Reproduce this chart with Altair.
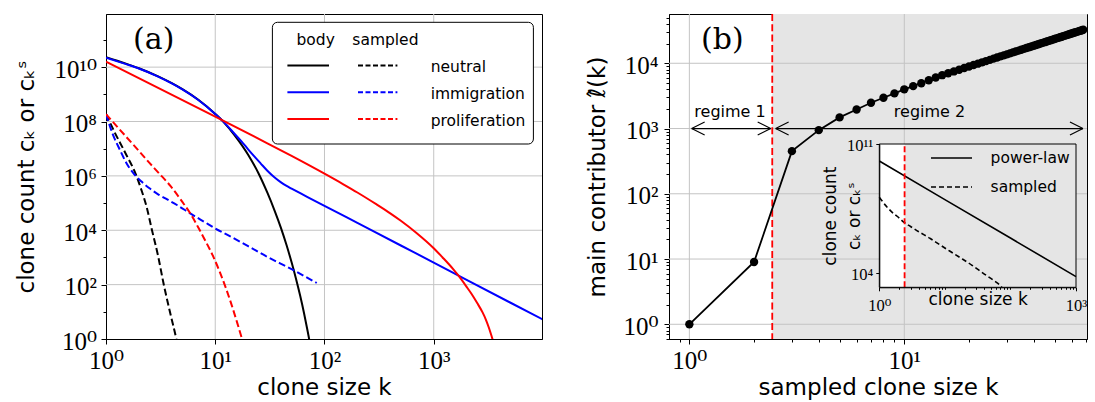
import altair as alt
import pandas as pd

# ================= data =================
# panel (a): clone count c_k (body) and c_k^s (sampled) against clone size k
neutral_body_k = [1, 1.5, 2, 3, 4, 5, 7, 10, 12, 15, 20, 25, 30, 35, 40, 45, 50, 55, 60, 65, 70, 74]
neutral_body_c = [2.34e10, 1.38e10, 9.1e9, 4.57e9, 2.57e9, 1.55e9, 6.3e8, 1.9e8, 9.3e7, 3.16e7, 6.0e6,
                  1.2e6, 2.4e5, 5.2e4, 1.2e4, 2.8e3, 660, 158, 38, 8.9, 2.0, 0.63]

immig_body_k = [1, 1.5, 2, 3, 4, 5, 7, 10, 12, 15, 18, 20, 23, 26, 30, 35, 40, 45, 50, 60, 70, 100,
                200, 500, 1000, 2000, 5000, 10000]
immig_body_c = [2.24e10, 1.32e10, 8.9e9, 4.47e9, 2.51e9, 1.51e9, 6.2e8, 1.9e8, 9.5e7, 3.55e7, 1.58e7,
                9.5e6, 5.0e6, 2.9e6, 1.55e6, 8.7e5, 5.75e5, 4.27e5, 3.4e5, 2.3e5, 1.66e5, 7.9e4,
                1.86e4, 2.75e3, 650, 150, 22, 5.2]

prolif_body_k = [1, 3, 10, 30, 50, 100, 150, 200, 300, 400, 500, 700, 1000, 1200, 1500, 1700, 2000,
                 2200, 2500, 2800, 3000, 3200, 3450, 3700]
prolif_body_c = [1.58e10, 1.74e9, 1.51e8, 1.58e7, 5.4e6, 1.2e6, 4.8e5, 2.45e5, 8.9e4, 4.2e4, 2.24e4,
                 7.8e3, 2.19e3, 1.02e3, 380, 204, 83, 48, 21, 9.5, 5.2, 2.6, 1.0, 0.4]

neutral_samp_k = [1, 1.2, 1.5, 1.9, 2.1, 2.35, 2.62, 3.0, 3.36, 3.9, 4.4, 4.6]
neutral_samp_c = [1.9e8, 4.0e7, 7.1e6, 1.0e6, 3.2e5, 7.4e4, 1.12e4, 1.12e3, 112, 7.9, 1.0, 0.4]

immig_samp_k = [1, 1.15, 1.34, 1.55, 1.78, 2.1, 2.5, 3.0, 3.5, 4.5, 6, 8, 10, 15, 20, 30, 50, 70, 85]
immig_samp_c = [1.86e8, 3.5e7, 9.1e6, 2.8e6, 1.26e6, 6.3e5, 3.5e5, 2.1e5, 1.48e5, 8.3e4, 4.0e4,
                2.0e4, 1.17e4, 4.9e3, 2.6e3, 1.05e3, 370, 178, 115]

prolif_samp_k = [1, 1.5, 2, 2.5, 3, 3.92, 5, 5.9, 7, 8, 9.6, 11, 12.4, 14, 16, 17.6, 18.5]
prolif_samp_c = [1.86e8, 3.0e7, 8.3e6, 3.0e6, 1.35e6, 4.1e5, 1.1e5, 4.2e4, 1.26e4, 4.6e3, 1.07e3,
                 295, 83, 20, 3.6, 1.0, 0.5]

# panel (b): main contributor against sampled clone size
sampled_size = [1, 2, 3, 4, 5, 6, 7, 8, 9, 10, 11, 12, 13, 14, 15, 16, 17, 18, 19, 20, 21, 22, 23,
                24, 25, 26, 27, 28, 29, 30, 31, 32, 33, 34, 35, 36, 37, 38, 39, 40, 41, 42, 43, 44,
                45, 46, 47, 48, 49, 50, 51, 52, 53, 54, 55, 56, 57, 58, 59, 60, 61, 62, 63, 64, 65,
                66, 67, 68]
main_contributor = [1, 9, 450, 945, 1480, 1960, 2480, 2960, 3460, 3990, 4460, 4950, 5500, 6050, 6570,
                    7040, 7500, 7970, 8450, 8910, 9390, 9860, 10340, 10810, 11290, 11770, 12250,
                    12740, 13220, 13700, 14180, 14670, 15150, 15640, 16130, 16620, 17110, 17600,
                    18090, 18590, 19080, 19570, 20060, 20560, 21050, 21550, 22050, 22540, 23040,
                    23540, 24040, 24540, 25040, 25540, 26040, 26540, 27050, 27550, 28060, 28570,
                    29070, 29580, 30080, 30590, 31090, 31600, 32110, 32620]
regime_boundary = 2.43

# inset of panel (b)
inset_power_k = [1, 10, 100, 1000]
inset_power_c = [1.2e10, 9.8e7, 8.1e5, 6.6e3]
inset_sampled_k = [1, 1.3, 1.56, 2.0, 2.36, 3, 4, 6, 8, 12, 18, 26, 40, 55, 70, 74]
inset_sampled_c = [1.32e8, 4.0e7, 2.04e7, 1.0e7, 5.9e6, 3.4e6, 1.78e6, 7.6e5, 3.9e5, 1.55e5, 6.3e4,
                   2.7e4, 9.1e3, 4.2e3, 2.2e3, 1.78e3]

# tick positions
a_xticks = [1, 10, 100, 1000]
a_yticks = [1, 1e1, 1e2, 1e3, 1e4, 1e5, 1e6, 1e7, 1e8, 1e9, 1e10, 1e11]
a_xgrid = [10, 100, 1000]
a_ygrid = [1e2, 1e4, 1e6, 1e8, 1e10]
b_xticks = [0.9, 1, 2, 3, 4, 5, 6, 7, 8, 9, 10, 20, 30, 40, 50, 60, 70]
b_yticks = [0.6, 0.7, 0.8, 0.9] + [m * 10 ** e for e in range(0, 4) for m in range(1, 10)] + [1e4, 2e4, 3e4, 4e4, 5e4]
b_xgrid = [1, 10]
b_ygrid = [1, 10, 100, 1000, 10000]
i_xticks = [m * 10 ** e for e in range(0, 3) for m in range(1, 10)] + [1000]
i_yticks = [1e4, 1e11]

# ================= styling =================
SANS = "DejaVu Sans"
SERIF = "Liberation Serif, DejaVu Serif"
GRID = "#c4c4c4"
SHADE = "#e5e5e5"
BLUE = "#0000ff"
RED = "#ff0000"
DASH = [7, 3.3]
W_A, H_A = 436, 325
W_B, H_B = 418, 325
TICKFS = 25

E = "round(log(datum.value)/LN10)"
S = "'\u2070\u00b9\u00b2\u00b3\u2074\u2075\u2076\u2077\u2078\u2079'"
POW = ("'10' + (" + E + " >= 10 ? substring(" + S + ", floor(" + E + "/10), floor(" + E + "/10)+1) : '') + "
       "substring(" + S + ", " + E + " % 10, " + E + " % 10 + 1)")
MAJOR = "abs(log(datum.value)/LN10 - " + E + ") < 0.01"
EVEN = "(" + MAJOR + ") && (" + E + " % 2 == 0)"


def cond(test, a, b):
    return {"condition": {"test": test, "value": a}, "value": b}


common_axis = dict(labelFont=SERIF, labelColor="black", labelOverlap=False, labelFlush=False,
                   tickColor="black", tickWidth=1, domainColor="black", domainWidth=1, grid=False,
                   titleFont=SANS, titleFontWeight="normal", titleColor="black")

ax_ax = alt.Axis(values=a_xticks, labelExpr=POW, labelFontSize=TICKFS, labelBaseline="alphabetic",
                 labelPadding=24, tickSize=5, title="clone size k", titleFontSize=23, titleY=55,
                 titleBaseline="alphabetic", **common_axis)
ax_ay = alt.Axis(values=a_yticks, labelExpr="(" + EVEN + ") ? " + POW + " : ''", labelFontSize=TICKFS,
                 labelBaseline="alphabetic", labelOffset=10, labelPadding=4.5,
                 tickSize=cond(EVEN, 5, 3), title="clone count c\u2096 or c\u2096\u02e2",
                 titleFontSize=23, titleX=-73, titleBaseline="alphabetic", **common_axis)
xs_a = alt.Scale(type="log", domain=[1, 9800], nice=False)
ys_a = alt.Scale(type="log", domain=[1, 9e11], nice=False)


def XA(f):
    return alt.X(f, type="quantitative", scale=xs_a, axis=ax_ax)


def YA(f):
    return alt.Y(f, type="quantitative", scale=ys_a, axis=ax_ay)


dummy = pd.DataFrame({"d": [0]})

# ---------- panel (a) ----------
a_layers = [
    alt.Chart(pd.DataFrame({"k": a_xgrid})).mark_rule(color=GRID, strokeWidth=1).encode(x=XA("k")),
    alt.Chart(pd.DataFrame({"c": a_ygrid})).mark_rule(color=GRID, strokeWidth=1).encode(y=YA("c")),
]
curves = [
    (neutral_body_k, neutral_body_c, "black", None),
    (immig_body_k, immig_body_c, BLUE, None),
    (prolif_body_k, prolif_body_c, RED, None),
    (neutral_samp_k, neutral_samp_c, "black", DASH),
    (immig_samp_k, immig_samp_c, BLUE, DASH),
    (prolif_samp_k, prolif_samp_c, RED, DASH),
]
for ks, cs, col, dash in curves:
    kw = dict(color=col, strokeWidth=2, clip=True, interpolate="monotone")
    if dash:
        kw["strokeDash"] = dash
    a_layers.append(alt.Chart(pd.DataFrame({"k": ks, "c": cs})).mark_line(**kw)
                    .encode(x=XA("k"), y=YA("c")))

# legend box of panel (a)
a_layers.append(alt.Chart(dummy).mark_rect(fill="white", stroke="black", strokeWidth=1, cornerRadius=5)
                .encode(x=alt.value(166.4), x2=alt.value(427.4), y=alt.value(8.3), y2=alt.value(130)))
for txt, xc in [("body", 209.7), ("sampled", 279.4)]:
    a_layers.append(alt.Chart(dummy).mark_text(text=txt, font=SANS, fontSize=15.5, align="center",
                                               baseline="alphabetic", color="black")
                    .encode(x=alt.value(xc), y=alt.value(30.6)))
for name, col, ly, ty in [("neutral", "black", 51.6, 58.3), ("immigration", BLUE, 78.3, 85),
                          ("proliferation", RED, 105, 111.6)]:
    a_layers.append(alt.Chart(dummy).mark_rule(color=col, strokeWidth=2)
                    .encode(x=alt.value(181.4), x2=alt.value(223), y=alt.value(ly)))
    a_layers.append(alt.Chart(dummy).mark_rule(color=col, strokeWidth=2, strokeDash=[5, 2.5])
                    .encode(x=alt.value(252), x2=alt.value(291.4), y=alt.value(ly)))
    a_layers.append(alt.Chart(dummy).mark_text(text=name, font=SANS, fontSize=15.5, align="left",
                                               baseline="alphabetic", color="black")
                    .encode(x=alt.value(324.7), y=alt.value(ty)))
a_layers.append(alt.Chart(dummy).mark_text(text="(a)", font="DejaVu Serif", fontSize=30, align="center",
                                           baseline="middle", color="black")
                .encode(x=alt.value(47.7), y=alt.value(25.8)))
chart_a = alt.layer(*a_layers).properties(width=W_A, height=H_A)

# ---------- panel (b) main ----------
ax_bx = alt.Axis(values=b_xticks, labelExpr="(" + MAJOR + ") ? " + POW + " : ''", labelFontSize=TICKFS,
                 labelBaseline="alphabetic", labelPadding=24, tickSize=cond(MAJOR, 5, 3),
                 title="sampled clone size k", titleFontSize=23, titleY=55, titleBaseline="alphabetic",
                 **common_axis)
ax_by = alt.Axis(values=b_yticks, labelExpr="(" + MAJOR + ") ? " + POW + " : ''", labelFontSize=TICKFS,
                 labelBaseline="alphabetic", labelOffset=10, labelPadding=6, tickSize=cond(MAJOR, 5, 3),
                 title="main contributor \u2113\u0302(k)", titleFontSize=23, titleX=-65,
                 titleBaseline="alphabetic", **common_axis)
xs_b = alt.Scale(type="log", domain=[0.804, 70.8], nice=False)
ys_b = alt.Scale(type="log", domain=[0.595, 56900], nice=False)


def XB(f):
    return alt.X(f, type="quantitative", scale=xs_b, axis=ax_bx)


def YB(f):
    return alt.Y(f, type="quantitative", scale=ys_b, axis=ax_by)


arrows = pd.DataFrame({"k": [1.025, 2.52], "k2": [2.39, 67.8], "l": [1000, 1000]})
left_heads = pd.DataFrame({"k": [1.025, 2.52], "l": [1000, 1000]})
right_heads = pd.DataFrame({"k": [2.39, 67.8], "l": [1000, 1000]})

b_main = [
    alt.Chart(pd.DataFrame({"k": [regime_boundary], "k2": [80]})).mark_rect(color=SHADE, clip=True)
    .encode(x=XB("k"), x2=alt.X2("k2"), y=alt.value(0), y2=alt.value(H_B)),
    alt.Chart(pd.DataFrame({"k": b_xgrid})).mark_rule(color=GRID, strokeWidth=1).encode(x=XB("k")),
    alt.Chart(pd.DataFrame({"l": b_ygrid})).mark_rule(color=GRID, strokeWidth=1).encode(y=YB("l")),
    alt.Chart(pd.DataFrame({"k": [regime_boundary]})).mark_rule(color=RED, strokeWidth=1.8, strokeDash=DASH)
    .encode(x=XB("k")),
    alt.Chart(arrows).mark_rule(color="black", strokeWidth=1.2).encode(x=XB("k"), x2=alt.X2("k2"), y=YB("l")),
    alt.Chart(left_heads).mark_point(shape="M0,0L1,-0.5M0,0L1,0.5", size=676, filled=False, color="black",
                                     strokeWidth=1.2, opacity=1).encode(x=XB("k"), y=YB("l")),
    alt.Chart(right_heads).mark_point(shape="M0,0L-1,-0.5M0,0L-1,0.5", size=676, filled=False, color="black",
                                      strokeWidth=1.2, opacity=1).encode(x=XB("k"), y=YB("l")),
    alt.Chart(pd.DataFrame({"k": sampled_size, "l": main_contributor})).mark_line(color="black", strokeWidth=1.8)
    .encode(x=XB("k"), y=YB("l")),
    alt.Chart(pd.DataFrame({"k": sampled_size, "l": main_contributor})).mark_circle(color="black", size=70, opacity=1)
    .encode(x=XB("k"), y=YB("l")),
    alt.Chart(dummy).mark_text(text="regime 1", font=SANS, fontSize=16, align="center", baseline="alphabetic",
                               color="black").encode(x=alt.value(61), y=alt.value(103)),
    alt.Chart(dummy).mark_text(text="regime 2", font=SANS, fontSize=16, align="center", baseline="alphabetic",
                               color="black").encode(x=alt.value(260.5), y=alt.value(103)),
    alt.Chart(dummy).mark_text(text="(b)", font="DejaVu Serif", fontSize=30, align="center", baseline="middle",
                               color="black").encode(x=alt.value(53.3), y=alt.value(25.8)),
]
main_b = alt.layer(*b_main)

# ---------- inset ----------
IX0, IX1, IY0, IY1 = 210.3, 407, 273.3, 130
ax_ix = alt.Axis(orient="bottom", offset=-(H_B - IY0), values=i_xticks, zindex=1,
                 labelExpr="(datum.value == 1 || datum.value == 1000) ? " + POW + " : ''",
                 labelFontSize=16.5, labelBaseline="alphabetic", labelPadding=19.5,
                 tickSize=cond("datum.value == 1 || datum.value == 1000", 3.5, 2), title="clone size k",
                 titleFontSize=17, titleY=16.7, titleBaseline="alphabetic", **common_axis)
ax_iy = alt.Axis(orient="left", offset=-IX0, values=i_yticks, zindex=1, labelExpr=POW, labelFontSize=16.5,
                 labelBaseline="alphabetic", labelOffset=6, labelPadding=3, tickSize=3.5,
                 title=["clone count", "c\u2096 or c\u2096\u02e2"], titleFontSize=17, titleLineHeight=24,
                 titleX=-44, titleBaseline="alphabetic", **common_axis)
xs_i = alt.Scale(type="log", domain=[1, 1000], range=[IX0, IX1], nice=False)
ys_i = alt.Scale(type="log", domain=[1740, 1e11], range=[IY0, IY1], nice=False)


def XI(f):
    return alt.X(f, type="quantitative", scale=xs_i, axis=ax_ix)


def YI(f):
    return alt.Y(f, type="quantitative", scale=ys_i, axis=ax_iy)


box = pd.DataFrame({"k": [1], "k2": [1000], "c": [1740], "c2": [1e11]})
i_layers = [
    alt.Chart(box).mark_rect(fill="white").encode(x=XI("k"), x2=alt.X2("k2"), y=YI("c"), y2=alt.Y2("c2")),
    alt.Chart(pd.DataFrame({"k": [regime_boundary], "k2": [1000], "c": [1740], "c2": [1e11]}))
    .mark_rect(fill=SHADE).encode(x=XI("k"), x2=alt.X2("k2"), y=YI("c"), y2=alt.Y2("c2")),
    alt.Chart(pd.DataFrame({"k": inset_power_k, "c": inset_power_c})).mark_line(color="black", strokeWidth=1.6)
    .encode(x=XI("k"), y=YI("c")),
    alt.Chart(pd.DataFrame({"k": inset_sampled_k, "c": inset_sampled_c}))
    .mark_line(color="black", strokeWidth=1.6, strokeDash=[5, 3], interpolate="monotone")
    .encode(x=XI("k"), y=YI("c")),
    alt.Chart(pd.DataFrame({"k": [regime_boundary], "c": [1740], "c2": [1e11]}))
    .mark_rule(color=RED, strokeWidth=1.8, strokeDash=[6, 3]).encode(x=XI("k"), y=YI("c"), y2=alt.Y2("c2")),
    alt.Chart(box).mark_rect(fillOpacity=0, stroke="black", strokeWidth=1)
    .encode(x=XI("k"), x2=alt.X2("k2"), y=YI("c"), y2=alt.Y2("c2")),
    alt.Chart(dummy).mark_rule(color="black", strokeWidth=1.6)
    .encode(x=alt.value(262), x2=alt.value(303), y=alt.value(144)),
    alt.Chart(dummy).mark_rule(color="black", strokeWidth=1.6, strokeDash=[5, 3])
    .encode(x=alt.value(262), x2=alt.value(303), y=alt.value(173)),
    alt.Chart(dummy).mark_text(text="power-law", font=SANS, fontSize=15.5, align="left", baseline="alphabetic",
                               color="black").encode(x=alt.value(321.6), y=alt.value(149)),
    alt.Chart(dummy).mark_text(text="sampled", font=SANS, fontSize=15.5, align="left", baseline="alphabetic",
                               color="black").encode(x=alt.value(321.6), y=alt.value(178)),
]
inset = alt.layer(*i_layers)

chart_b = alt.layer(main_b, inset).resolve_scale(x="independent", y="independent").properties(width=W_B, height=H_B)

chart = (alt.hconcat(chart_a, chart_b, spacing=42)
         .properties(padding={"left": 14, "top": 7, "right": 0, "bottom": 0}, background="white")
         .configure_view(stroke="black", strokeWidth=1))

chart.save("out.html", embed_options={"renderer": "svg", "actions": False})
